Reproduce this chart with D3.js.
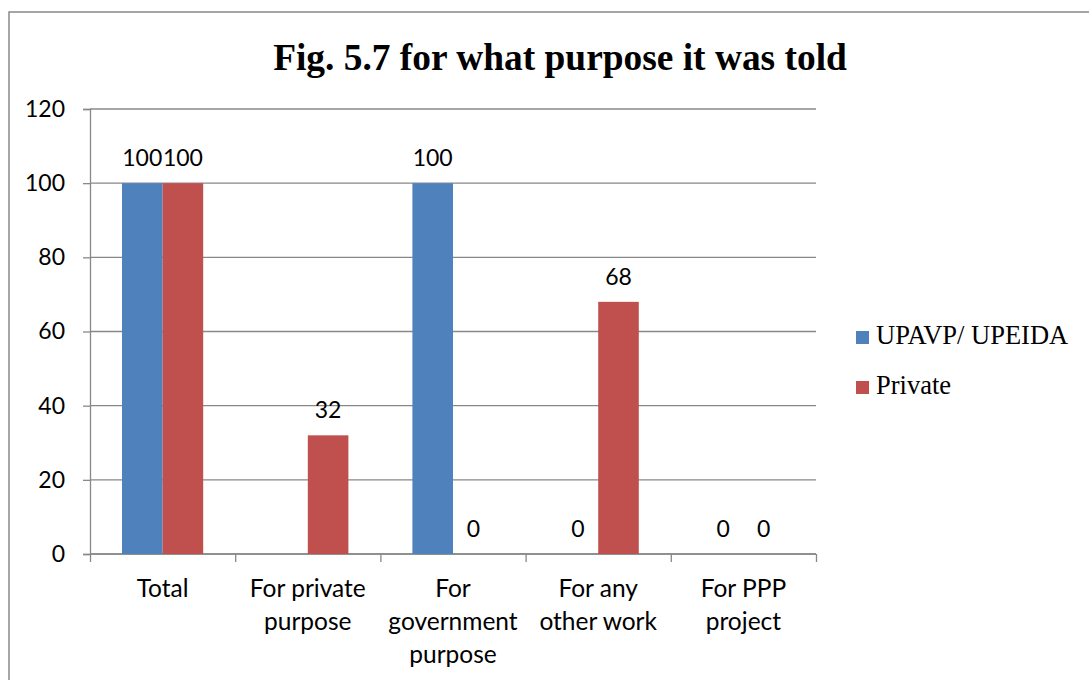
<!DOCTYPE html>
<html><head><meta charset="utf-8">
<script src="https://cdn.jsdelivr.net/npm/d3@7"></script>
<style>body{margin:0;background:#fff}</style>
</head><body>
<svg id="chart" width="1089" height="680"></svg>
<script>
const categories = [["Total"], ["For private", "purpose"], ["For", "government", "purpose"], ["For any", "other work"], ["For PPP", "project"]];
const seriesNames = ["UPAVP/ UPEIDA", "Private"];
const upavp = [100, null, 100, 0, 0];
const privateVals = [100, 32, 0, 68, 0];
const yTicks = [0, 20, 40, 60, 80, 100, 120];
const colors = ["#4F81BD", "#C0504D"];
const titleText = "Fig. 5.7 for what purpose it was told";

const svg = d3.select("#chart");
const W = 1089, H = 680;
const margin = {left: 90, right: 273, top: 109, bottom: 126};
const plotW = W - margin.left - margin.right; // 726
const plotH = H - margin.top - margin.bottom; // 445

// outer border
svg.append("rect").attr("x", 9).attr("y", 12).attr("width", W + 10).attr("height", H + 10)
  .attr("fill", "none").attr("stroke", "#898989").attr("stroke-width", 1.5);

svg.append("text").attr("x", 560).attr("y", 70).attr("text-anchor", "middle")
  .attr("font-family", "Liberation Serif, Times New Roman, serif").attr("font-weight", "bold")
  .attr("font-size", 37.4).attr("fill", "#000").text(titleText);

const g = svg.append("g").attr("transform", `translate(${margin.left},${margin.top})`);

const x0 = d3.scaleBand().domain(d3.range(categories.length)).range([0, plotW]).paddingInner(0).paddingOuter(0);
const x1 = d3.scaleBand().domain([0, 1]).range([32, x0.bandwidth() - 32]);
const y = d3.scaleLinear().domain([0, 120]).range([plotH, 0]);

// gridlines
g.selectAll(".grid").data(yTicks).enter().append("line")
  .attr("x1", 0).attr("x2", plotW).attr("y1", d => y(d)).attr("y2", d => y(d))
  .attr("stroke", "#888").attr("stroke-width", 1.3);

const fontSans = "Lato, Carlito, Calibri, sans-serif";

// y axis
const yAxis = g.append("g").call(d3.axisLeft(y).tickValues(yTicks).tickSize(7).tickPadding(18));
yAxis.select(".domain").attr("stroke", "#888").attr("stroke-width", 1.3);
yAxis.selectAll(".tick line").attr("stroke", "#888").attr("stroke-width", 1.3);
yAxis.selectAll("text").attr("font-family", fontSans).attr("font-size", 23).attr("fill", "#000");

// x axis
const xAxis = g.append("g").attr("transform", `translate(0,${plotH})`)
  .call(d3.axisBottom(d3.scaleLinear().domain([0, categories.length]).range([0, plotW]))
    .ticks(categories.length).tickSize(8).tickFormat(""));
xAxis.select(".domain").attr("stroke", "#888").attr("stroke-width", 1.3).attr("d", `M0,0H${plotW}`);
xAxis.selectAll(".tick line").attr("stroke", "#888").attr("stroke-width", 1.3);

// x labels
categories.forEach((lines, i) => {
  const t = g.append("text").attr("text-anchor", "middle")
    .attr("font-family", fontSans).attr("font-size", 24.5).attr("fill", "#000");
  lines.forEach((ln, j) => {
    t.append("tspan").attr("x", x0(i) + x0.bandwidth() / 2).attr("y", plotH + 43 + j * 33).text(ln);
  });
});

const series = [upavp, privateVals];
series.forEach((vals, s) => {
  vals.forEach((v, i) => {
    if (v === null) return;
    const bx = x0(i) + x1(s);
    if (v > 0) {
      g.append("rect").attr("x", bx).attr("y", y(v)).attr("width", x1.bandwidth())
        .attr("height", y(0) - y(v)).attr("fill", colors[s]);
    }
    g.append("text").attr("x", bx + x1.bandwidth() / 2).attr("y", y(v) - 17)
      .attr("text-anchor", "middle").attr("font-family", fontSans).attr("font-size", 23)
      .attr("fill", "#000").text(v);
  });
});

// legend
const leg = svg.append("g").attr("transform", "translate(856,0)");
seriesNames.forEach((n, i) => {
  const base = 344 + i * 50;
  leg.append("rect").attr("x", 0).attr("y", base - 13).attr("width", 13).attr("height", 13).attr("fill", colors[i]);
  leg.append("text").attr("x", 20).attr("y", base).attr("font-family", "Liberation Serif, Times New Roman, serif")
    .attr("font-size", 26.5).attr("fill", "#000").text(n);
});
</script>
</body></html>
